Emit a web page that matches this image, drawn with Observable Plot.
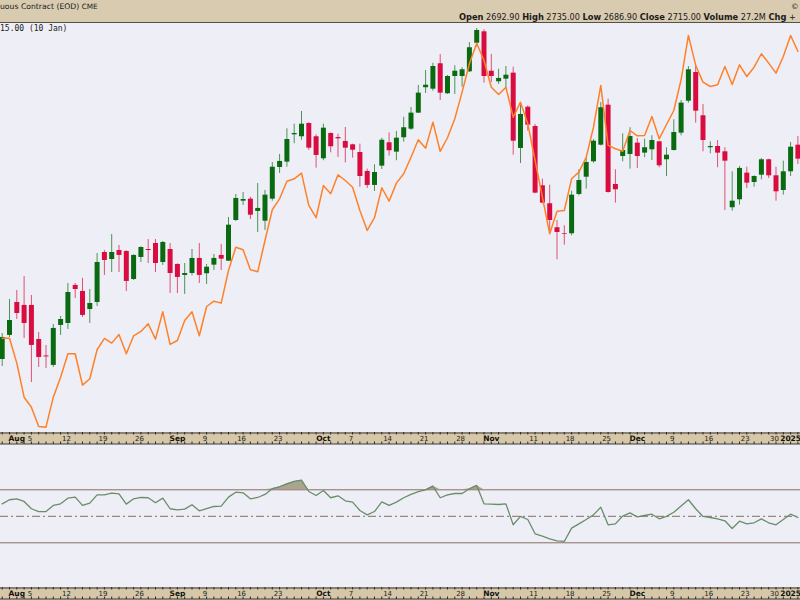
<!DOCTYPE html>
<html><head><meta charset="utf-8">
<script src="https://cdn.jsdelivr.net/npm/d3@7"></script>
<script src="https://cdn.jsdelivr.net/npm/@observablehq/plot@0.6"></script>
<style>
html,body{margin:0;padding:0;background:#eeeff6;}
#root{position:relative;width:800px;height:600px;overflow:hidden;background:#eeeff6;font-family:"DejaVu Sans",sans-serif;color:#1a1a1a;}
.abs{position:absolute;white-space:nowrap;}
#hdr{left:0;top:0;width:800px;height:22px;background:#d8cbb0;border-bottom:1.5px solid #55504a;}
.t8{font-size:7.7px;line-height:10px;}
.mono{font-family:"DejaVu Sans Mono",monospace;font-size:8px;line-height:10px;}
.band{left:0;width:800px;background:#d6c7a8;}
svg{display:block;}
</style>
</head><body>
<div id="root">
  <div id="hdr" class="abs"></div>
  <div class="abs t8" style="left:0;top:2.3px;">uous Contract (EOD) <span style="font-size:7.3px">CME</span></div>
  <div class="abs t8" style="left:791px;top:1.5px;">©</div>
  <div class="abs t8" style="left:459px;top:12.3px;font-size:8.1px;"><b style="font-size:8.3px">Open</b> 2692.90 <b style="font-size:8.3px">High</b> 2735.00 <b style="font-size:8.3px">Low</b> 2686.90 <b style="font-size:8.3px">Close</b> 2715.00 <b style="font-size:8.3px">Volume</b> 27.2M <b style="font-size:8.3px">Chg</b> +</div>
  <div id="main" class="abs" style="left:0;top:23px;"></div>
  <div class="abs mono" style="left:0;top:24.3px;">15.00 (10 Jan)</div>
  <div id="band1" class="abs band" style="top:432px;height:12px;"></div>
  <div id="rsi" class="abs" style="left:0;top:445px;"></div>
  <div id="band2" class="abs band" style="top:586.5px;height:16px;"></div>
</div>
<script>
const dates = [
"2024-07-30","2024-07-31","2024-08-01","2024-08-02",
"2024-08-05","2024-08-06","2024-08-07","2024-08-08","2024-08-09",
"2024-08-12","2024-08-13","2024-08-14","2024-08-15","2024-08-16",
"2024-08-19","2024-08-20","2024-08-21","2024-08-22","2024-08-23",
"2024-08-26","2024-08-27","2024-08-28","2024-08-29","2024-08-30",
"2024-09-03","2024-09-04","2024-09-05","2024-09-06",
"2024-09-09","2024-09-10","2024-09-11","2024-09-12","2024-09-13",
"2024-09-16","2024-09-17","2024-09-18","2024-09-19","2024-09-20",
"2024-09-23","2024-09-24","2024-09-25","2024-09-26","2024-09-27",
"2024-09-30","2024-10-01","2024-10-02","2024-10-03","2024-10-04",
"2024-10-07","2024-10-08","2024-10-09","2024-10-10","2024-10-11",
"2024-10-14","2024-10-15","2024-10-16","2024-10-17","2024-10-18",
"2024-10-21","2024-10-22","2024-10-23","2024-10-24","2024-10-25",
"2024-10-28","2024-10-29","2024-10-30","2024-10-31","2024-11-01",
"2024-11-04","2024-11-05","2024-11-06","2024-11-07","2024-11-08",
"2024-11-11","2024-11-12","2024-11-13","2024-11-14","2024-11-15",
"2024-11-18","2024-11-19","2024-11-20","2024-11-21","2024-11-22",
"2024-11-25","2024-11-26","2024-11-27","2024-11-29",
"2024-12-02","2024-12-03","2024-12-04","2024-12-05","2024-12-06",
"2024-12-09","2024-12-10","2024-12-11","2024-12-12","2024-12-13",
"2024-12-16","2024-12-17","2024-12-18","2024-12-19","2024-12-20",
"2024-12-23","2024-12-24","2024-12-26","2024-12-27",
"2024-12-30","2024-12-31","2025-01-02","2025-01-03"];

const open = [2427.7,2454.9,2492.1,2488.8,2488.8,2450.3,2431.7,2421.0,2466.2,2468.4,
2511.4,2504.6,2484.2,2492.1,2548.6,2540.7,2550.9,2549.8,2518.1,2543.0,
2552.0,2558.8,2537.3,2552.0,2535.1,2522.7,2524.9,2541.9,2524.6,2534.3,
2545.3,2538.8,2584.8,2606.6,2608.9,2595.0,2584.0,2608.9,2644.7,2650.7,
2681.6,2679.4,2694.4,2679.4,2654.5,2683.1,2678.6,2674.1,2670.3,2661.6,
2640.2,2624.4,2646.2,2672.6,2662.0,2678.3,2688.0,2706.1,2734.8,2733.2,
2761.9,2728.0,2747.5,2747.5,2752.8,2785.1,2798.0,2753.5,2741.5,2744.5,
2751.3,2666.2,2712.8,2691.0,2624.0,2603.7,2576.6,2570.1,2569.8,2614.2,
2633.7,2651.1,2669.9,2715.1,2625.5,2657.1,2659.4,2672.2,2660.9,2664.7,
2673.7,2653.4,2663.9,2683.5,2719.6,2752.0,2703.1,2667.0,2668.4,2662.4,
2599.2,2608.2,2638.3,2627.7,2636.0,2653.4,2635.3,2618.7,2639.8,2669.9];
const high = [2457.1,2495.5,2505.7,2521.5,2500.1,2458.2,2443.6,2467.3,2476.3,2513.6,
2513.6,2519.3,2506.8,2547.5,2550.9,2569.0,2556.6,2550.5,2546.0,2555.0,
2563.3,2563.3,2561.1,2558.8,2535.8,2536.2,2552.0,2558.8,2535.1,2546.4,
2557.7,2588.2,2614.2,2616.4,2611.1,2626.6,2618.7,2650.3,2659.4,2688.4,
2693.6,2708.0,2695.2,2681.6,2693.6,2683.9,2682.3,2689.9,2671.0,2671.0,
2642.8,2647.7,2677.8,2683.9,2685.4,2701.5,2712.5,2737.4,2754.3,2762.6,
2772.4,2748.6,2759.6,2757.4,2785.9,2801.8,2800.3,2772.4,2755.8,2758.8,
2758.0,2718.1,2714.4,2693.3,2631.5,2624.7,2584.8,2578.8,2617.9,2642.1,
2655.7,2676.0,2718.1,2721.9,2642.1,2682.8,2689.6,2677.5,2676.7,2680.5,
2674.4,2667.0,2698.6,2720.4,2758.8,2760.3,2715.9,2673.7,2675.2,2667.0,
2639.8,2645.8,2645.0,2635.2,2654.9,2654.1,2645.0,2651.8,2672.9,2679.7];
const low = [2419.8,2452.6,2472.9,2451.5,2401.7,2418.7,2417.6,2418.7,2454.9,2461.6,
2496.7,2475.2,2468.4,2487.6,2522.7,2526.0,2526.0,2504.6,2517.0,2537.3,
2536.2,2526.0,2534.0,2502.3,2502.3,2501.2,2522.2,2513.6,2512.5,2528.3,
2528.3,2538.3,2583.7,2601.8,2585.9,2571.2,2573.5,2606.6,2637.9,2645.0,
2671.5,2675.5,2663.9,2643.9,2652.3,2661.3,2656.0,2650.0,2655.2,2622.4,
2621.0,2617.6,2642.4,2657.5,2652.3,2673.3,2686.5,2705.7,2728.3,2730.9,
2720.4,2727.2,2727.2,2735.4,2752.0,2780.6,2740.0,2740.7,2738.5,2733.2,
2658.6,2649.2,2685.7,2615.0,2603.8,2571.2,2540.4,2556.9,2567.5,2612.7,
2620.2,2649.6,2669.0,2615.7,2604.4,2651.1,2642.8,2643.6,2655.7,2652.6,
2644.4,2634.5,2663.2,2680.5,2717.4,2694.8,2662.4,2660.2,2644.4,2596.1,
2595.3,2602.1,2621.0,2622.4,2630.8,2632.3,2606.6,2613.4,2634.5,2648.1];
const close = [2452.6,2471.8,2479.7,2468.4,2443.6,2430.0,2430.6,2462.8,2472.9,2503.4,
2506.8,2477.5,2491.0,2537.3,2539.6,2548.6,2545.3,2515.9,2545.3,2554.3,
2550.9,2536.2,2559.9,2524.9,2520.4,2524.9,2541.9,2522.7,2532.0,2541.9,
2541.1,2579.5,2609.7,2608.5,2590.8,2598.4,2613.4,2645.0,2651.5,2676.3,
2683.1,2693.6,2666.5,2658.3,2689.1,2668.1,2677.1,2666.5,2664.2,2634.5,
2624.4,2639.0,2675.5,2663.6,2677.8,2689.6,2706.1,2728.7,2737.7,2758.8,
2728.7,2747.5,2753.5,2755.1,2780.0,2799.5,2747.5,2747.5,2745.3,2749.0,
2674.4,2704.6,2692.5,2615.7,2604.4,2584.8,2571.2,2569.3,2613.4,2630.0,
2650.3,2674.4,2712.2,2616.4,2619.5,2663.9,2679.7,2657.1,2667.0,2675.2,
2646.6,2658.6,2684.2,2717.4,2755.1,2708.3,2675.2,2668.4,2660.9,2651.8,
2606.6,2643.6,2627.0,2634.5,2653.4,2635.3,2617.2,2639.8,2667.6,2654.1];
// orange comparison overlay (same vertical units as price)
const overlay = [2451.8,2451.8,2423.6,2385.1,2373.8,2352.0,2351.2,2385.1,2407.7,2434.2,
2434.2,2398.7,2405.9,2438.7,2451.5,2446.2,2456.0,2434.2,2454.5,2459.4,
2468.1,2450.7,2481.6,2444.7,2449.2,2471.8,2481.6,2454.5,2487.6,2493.6,
2491.4,2528.3,2554.6,2551.7,2529.1,2526.8,2562.2,2596.9,2609.3,2629.2,
2631.9,2638.3,2601.8,2587.9,2624.4,2615.0,2636.4,2630.0,2622.4,2596.1,
2573.5,2587.9,2621.8,2606.6,2627.0,2637.6,2656.3,2676.0,2666.5,2695.9,
2662.8,2678.3,2699.7,2729.8,2761.9,2785.1,2765.6,2735.4,2727.2,2735.4,
2701.5,2718.5,2694.1,2652.6,2611.1,2569.8,2595.3,2596.1,2631.9,2639.4,
2656.3,2690.2,2737.4,2669.6,2665.8,2663.1,2686.5,2680.5,2680.9,2702.3,
2677.1,2693.3,2709.1,2743.8,2793.9,2760.0,2741.1,2736.2,2738.1,2758.8,
2738.5,2760.7,2747.5,2758.0,2773.2,2762.6,2751.3,2770.1,2793.9,2776.1];
const rsi = [59.4,62.5,63.2,61.2,55.7,53.6,53.6,58.2,59.4,63.7,
64.5,58.2,59.9,66.2,66.2,67.5,67.0,59.2,63.2,64.2,
64.0,60.2,63.7,55.7,54.9,55.4,58.7,54.1,55.7,57.4,
57.7,64.5,68.2,67.7,63.2,64.2,66.5,70.8,72.3,74.5,
76.3,77.3,68.7,65.7,69.5,64.0,65.5,61.7,60.7,54.4,
51.1,53.6,60.9,58.2,60.7,64.0,66.5,68.7,70.0,72.8,
64.0,66.2,67.2,67.2,70.8,73.3,59.4,59.2,58.9,59.4,
43.6,49.9,47.6,36.8,35.0,33.0,31.5,31.0,41.1,44.3,
47.6,51.1,56.9,43.6,44.3,50.2,52.6,49.6,50.6,51.6,
48.1,49.9,53.1,57.7,62.5,55.7,49.9,49.1,48.1,46.6,
40.8,46.3,44.3,45.1,48.1,45.1,43.6,47.6,51.6,49.1];
const labelDates = ["2024-08-01","2024-08-05","2024-08-12","2024-08-19","2024-08-26","2024-09-03","2024-09-09","2024-09-16","2024-09-23","2024-10-01","2024-10-07","2024-10-14","2024-10-21","2024-10-28","2024-11-01","2024-11-11","2024-11-18","2024-11-25","2024-12-02","2024-12-09","2024-12-16","2024-12-23","2024-12-30","2025-01-02"];
const labelTexts = ["Aug","5","12","19","26","Sep","9","16","23","Oct","7","14","21","28","Nov","11","18","25","Dec","9","16","23","30","2025"];
const labelBold = [true,false,false,false,false,true,false,false,false,true,false,false,false,false,true,false,false,false,true,false,false,false,false,true];

const GREEN = "#0a6a12", RED = "#d80c40", ORANGE = "#ff8028";
const rows = dates.map((d, i) => ({date: d, open: open[i], high: high[i], low: low[i], close: close[i], ov: overlay[i], rsi: rsi[i]}));
const col = d => d.close >= d.open ? GREEN : RED;
const labels = labelDates.map((d, i) => ({date: d, text: labelTexts[i], bold: labelBold[i]}));
const xs = () => ({type: "point", domain: dates, range: [1.7, 797.4], padding: 0, axis: null});

const main = Plot.plot({
  width: 800, height: 409, margin: 0,
  style: {background: "transparent", overflow: "visible"},
  x: xs(),
  y: {domain: [2345.2, 2807.4], range: [409, 0], axis: null},
  color: {type: "identity"},
  marks: [
    Plot.ruleX(rows, {x: "date", y1: "low", y2: "high", stroke: col, strokeWidth: 1, strokeOpacity: 0.7}),
    Plot.ruleX(rows, {x: "date", y1: "open", y2: "close", stroke: col, strokeWidth: 5}),
    Plot.lineY(rows, {x: "date", y: "ov", stroke: ORANGE, strokeWidth: 1.5})
  ]
});
document.getElementById("main").appendChild(main);

function band(h) {
  return Plot.plot({
    width: 800, height: h, margin: 0,
    style: {background: "transparent", overflow: "visible"},
    x: xs(),
    y: {domain: [0, h], range: [0, h], axis: null},
    marks: [
      Plot.ruleY([0.5, 11.5], {stroke: "#3c3c3c", strokeWidth: 1}),
      Plot.ruleX(dates, {x: d => d, y1: 0, y2: 2.5, stroke: "#2a2a2a"}),
      Plot.ruleX(dates, {x: d => d, y1: 9.5, y2: 12, stroke: "#2a2a2a"}),
      Plot.text(labels.filter(d => d.bold), {x: "date", y: 6.3, text: "text", fontWeight: "bold", fontSize: 7.5, fill: "#111", fontFamily: "DejaVu Sans"}),
      Plot.text(labels.filter(d => !d.bold), {x: "date", y: 6.3, text: "text", fontSize: 7, dx: -1.5, fill: "#222", fontFamily: "DejaVu Sans"})
    ]
  });
}
document.getElementById("band1").appendChild(band(12));
document.getElementById("band2").appendChild(band(16));

const rsiPlot = Plot.plot({
  width: 800, height: 142, margin: 0,
  style: {background: "transparent", overflow: "visible"},
  x: xs(),
  y: {domain: [0, 100], range: [137.05, 4.55], axis: null},
  marks: [
    Plot.areaY(rows, {x: "date", y1: 70, y2: d => Math.max(70, d.rsi), fill: "#aaa58f"}),
    Plot.areaY(rows, {x: "date", y1: 30, y2: d => Math.min(30, d.rsi), fill: "#aaa58f"}),
    Plot.ruleY([70, 30], {stroke: "#8a6c62", strokeWidth: 1}),
    Plot.ruleY([50], {stroke: "#8a6c62", strokeWidth: 1, strokeDasharray: "8,3,2,3"}),
    Plot.lineY(rows, {x: "date", y: "rsi", stroke: "#6a8c6a", strokeWidth: 1.3})
  ]
});
document.getElementById("rsi").appendChild(rsiPlot);
</script>
</body></html>
